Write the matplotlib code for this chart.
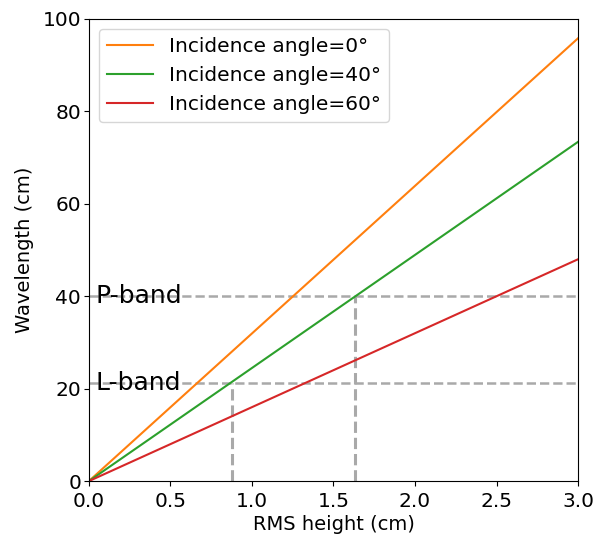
import matplotlib.pyplot as plt

# RMS height endpoints (cm) and wavelength
rms = [0.0, 3.0]
wl_0 = [0.0, 95.8]
wl_40 = [0.0, 73.4]
wl_60 = [0.0, 48.0]

l_band = 21.3
p_band = 40.0
l_cross = 0.88
p_cross = 1.635

fig = plt.figure(figsize=(5.96, 5.37), dpi=100)
ax = fig.add_axes([0.149, 0.104, 0.821, 0.861])

ax.plot(rms, wl_0, color="tab:orange", label="Incidence angle=0°")
ax.plot(rms, wl_40, color="tab:green", label="Incidence angle=40°")
ax.plot(rms, wl_60, color="tab:red", label="Incidence angle=60°")

# band guides
ax.axhline(p_band, color="darkgray", ls="--", lw=1.8, zorder=0)
ax.axhline(l_band, color="darkgray", ls="--", lw=1.8, zorder=0)
ax.plot([l_cross, l_cross], [0, l_band], color="darkgray", ls="--", lw=2.2, zorder=0)
ax.plot([p_cross, p_cross], [0, p_band], color="darkgray", ls="--", lw=2.2, zorder=0)
ax.text(0.04, p_band, "P-band", fontsize=18, va="center")
ax.text(0.04, l_band, "L-band", fontsize=18, va="center")

ax.set_xlim(0, 3)
ax.set_ylim(0, 100)
ax.set_xlabel("RMS height (cm)", fontsize=14, labelpad=3)
ax.set_ylabel("Wavelength (cm)", fontsize=14, labelpad=6)
ax.tick_params(axis="y", labelsize=14.5, pad=2)
ax.tick_params(axis="x", labelsize=14.5, pad=4)
ax.legend(loc="upper left", fontsize=14.5, handlelength=2.3)

fig.savefig("out.png")
